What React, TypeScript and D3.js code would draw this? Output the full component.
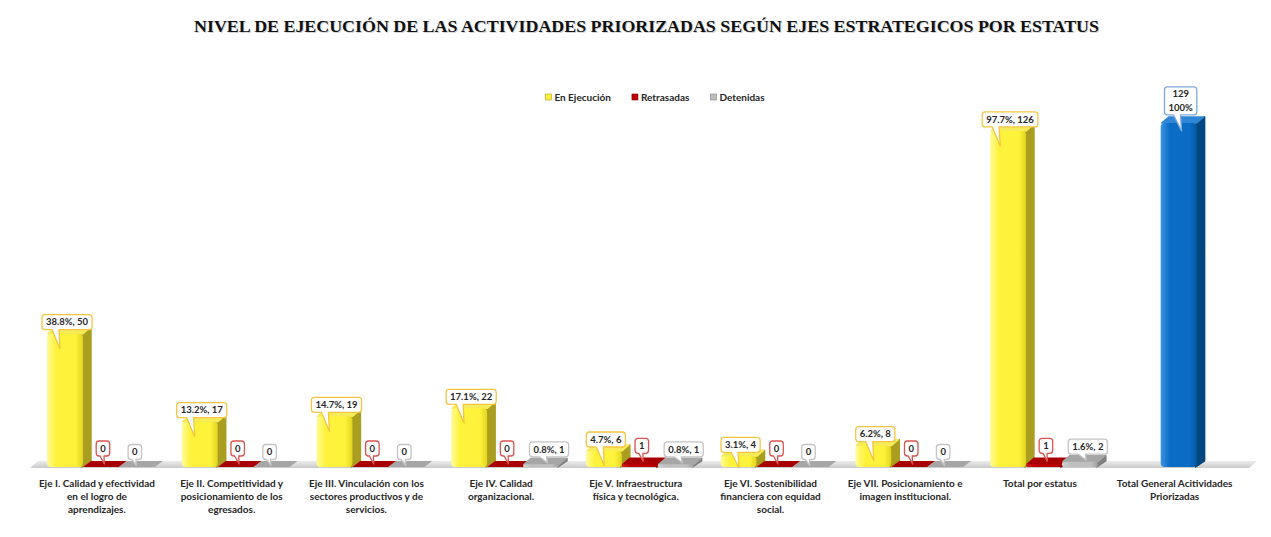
import React from 'react';
import * as d3 from 'd3';

const W = 1271;
const H = 537;

const title = 'NIVEL DE EJECUCIÓN DE LAS ACTIVIDADES PRIORIZADAS SEGÚN EJES ESTRATEGICOS POR ESTATUS';

const categories = [
  'Eje I. Calidad y efectividad\nen el logro de\naprendizajes.',
  'Eje II. Competitividad y\nposicionamiento de los\negresados.',
  'Eje III. Vinculación con los\nsectores productivos y de\nservicios.',
  'Eje IV. Calidad\norganizacional.',
  'Eje V. Infraestructura\nfísica y tecnológica.',
  'Eje VI. Sostenibilidad\nfinanciera con equidad\nsocial.',
  'Eje VII. Posicionamiento e\nimagen institucional.',
  'Total por estatus',
  'Total General Acitividades\nPriorizadas',
];

const seriesNames = ['En Ejecución', 'Retrasadas', 'Detenidas'];

const enEjecucion = [50, 17, 19, 22, 6, 4, 8, 126];
const retrasadas = [0, 0, 0, 0, 1, 0, 0, 1];
const detenidas = [0, 0, 0, 1, 1, 0, 0, 2];
const pctEnEjecucion = ['38.8%', '13.2%', '14.7%', '17.1%', '4.7%', '3.1%', '6.2%', '97.7%'];
const pctDetenidas = ['', '', '', '0.8%', '0.8%', '', '', '1.6%'];
const totalGeneral = 129;
const totalGeneralPct = '100%';

const FONT = 'Lato, "Noto Sans", sans-serif';

type Style = {
  front: [string, string, string];
  side: string;
  top: string;
  border: string;
};

const styles: Record<string, Style> = {
  'En Ejecución': { front: ['#fffb9a', '#fff23a', '#e3d41f'], side: '#a99e1f', top: '#f6ec5a', border: '#f5c542' },
  Retrasadas: { front: ['#d42020', '#c00000', '#9a0000'], side: '#7a0000', top: '#a80000', border: '#d9534f' },
  Detenidas: { front: ['#cfcfcf', '#bfbfbf', '#9f9f9f'], side: '#808080', top: '#a6a6a6', border: '#c4c4c4' },
  Total: { front: ['#3d93e4', '#0a6cc4', '#075aa6'], side: '#00467f', top: '#2f86d6', border: '#7fa9dc' },
};

let ctx: CanvasRenderingContext2D | null = null;
function measure(text: string, size: number): number {
  if (!ctx) {
    const c = document.createElement('canvas');
    ctx = c.getContext('2d');
  }
  if (!ctx) return text.length * size * 0.5;
  ctx.font = `bold ${size}px ${FONT}`;
  return ctx.measureText(text).width;
}

function calloutPath(l: number, t: number, w: number, h: number, r: number, wx1: number, wx2: number, tx: number, ty: number) {
  const b = t + h;
  const rr = l + w;
  return `M${l + r},${t} H${rr - r} Q${rr},${t} ${rr},${t + r} V${b - r} Q${rr},${b} ${rr - r},${b} H${wx2} L${tx},${ty} L${wx1},${b} H${l + r} Q${l},${b} ${l},${b - r} V${t + r} Q${l},${t} ${l + r},${t} Z`;
}

const DX = 8;
const DY = -6;

export default function App() {
  const base = 467;
  const x = d3.scaleBand<string>().domain(categories).range([33.6, 1246]).paddingInner(0.2).paddingOuter(0.1);
  const xs = d3.scaleBand<string>().domain(seriesNames).range([0, x.bandwidth()]);
  const y = d3.scaleLinear().domain([0, 140]).range([base, base - 140 * 2.667]);
  const w = xs.bandwidth();

  type Bar = { key: string; x0: number; v: number; style: Style; series: string; label: string[] };
  const bars: Bar[] = [];
  const seriesData = [enEjecucion, retrasadas, detenidas];
  for (let i = 0; i < 8; i++) {
    seriesNames.forEach((s, si) => {
      const v = seriesData[si][i];
      let label: string[];
      if (si === 0) label = [`${pctEnEjecucion[i]}, ${v}`];
      else if (si === 1) label = [`${v}`];
      else label = [pctDetenidas[i] ? `${pctDetenidas[i]}, ${v}` : `${v}`];
      bars.push({
        key: `${i}-${si}`,
        x0: (x(categories[i]) as number) + (xs(s) as number),
        v,
        style: styles[s],
        series: s,
        label,
      });
    });
  }
  bars.push({
    key: 'total',
    x0: (x(categories[8]) as number) + (xs('Retrasadas') as number),
    v: totalGeneral,
    style: styles.Total,
    series: 'Total',
    label: [`${totalGeneral}`, totalGeneralPct],
  });

  const floorL = 30;
  const floorR = 1249;

  const renderBar = (b: Bar) => {
    const yt = y(b.v);
    const h = base - yt;
    const id = `g-${b.key}`;
    const grad = (
      <linearGradient id={id} x1="0" x2="1" y1="0" y2="0">
        <stop offset="0" stopColor={b.style.front[0]} />
        <stop offset="0.25" stopColor={b.style.front[1]} />
        <stop offset="0.8" stopColor={b.style.front[1]} />
        <stop offset="1" stopColor={b.style.front[2]} />
      </linearGradient>
    );
    if (h < 0.5) {
      return (
        <g key={b.key}>
          <polygon
            points={`${b.x0},${base} ${b.x0 + DX},${base + DY} ${b.x0 + w + DX},${base + DY} ${b.x0 + w},${base}`}
            fill={b.style.top}
          />
        </g>
      );
    }
    const r = Math.min(4, h / 2);
    return (
      <g key={b.key}>
        <defs>{grad}</defs>
        <polygon
          points={`${b.x0 + w - 1},${yt} ${b.x0 + w + DX},${yt + DY} ${b.x0 + w + DX},${base + DY} ${b.x0 + w - 1},${base}`}
          fill={b.style.side}
          stroke={b.style.side}
          strokeWidth={1.5}
          strokeLinejoin="round"
        />
        <polygon
          points={`${b.x0 + 1},${yt} ${b.x0 + DX},${yt + DY} ${b.x0 + w + DX - 1},${yt + DY} ${b.x0 + w},${yt}`}
          fill={b.style.top}
          stroke={b.style.top}
          strokeWidth={1.5}
          strokeLinejoin="round"
        />
        <rect x={b.x0} y={yt} width={w} height={h} rx={r} ry={r} fill={`url(#${id})`} />
      </g>
    );
  };

  const renderLabel = (b: Bar) => {
    const fs = 9.5;
    const yt = y(b.v);
    const tw = Math.max(...b.label.map((t) => measure(t, fs)));
    const bw = tw + 8;
    const bh = b.label.length > 1 ? 28 : 15;
    let offset = 4;
    if (b.series === 'Retrasadas') offset = 11;
    if (b.series === 'Detenidas') offset = 7.5;
    if (b.series === 'Total') offset = 8;
    const bottom = yt - offset;
    const top = bottom - bh;
    let cx = b.x0 + w / 2 + 2;
    if (b.series === 'Detenidas') cx = b.x0 + w / 2 + (b.label[0].length > 2 ? 8 : -2);
    const l = cx - bw / 2;
    const wx1 = l + Math.min(10, bw * 0.28);
    const wx2 = wx1 + Math.min(7, bw * 0.3);
    const tx = wx1 + Math.min(8, bw * 0.32);
    let ty: number;
    if (b.series === 'En Ejecución') ty = yt + Math.min(15, (base - yt) * 0.6 + 5);
    else if (b.series === 'Total') ty = yt + 8;
    else ty = Math.max(bottom + 6, yt - 3);
    return (
      <g key={`l-${b.key}`}>
        <path
          d={calloutPath(l, top, bw, bh, 3, wx1, wx2, tx, ty)}
          fill="#ffffff"
          stroke={b.style.border}
          strokeWidth={1.3}
          strokeLinejoin="round"
        />
        {b.label.map((t, i) => (
          <text
            key={i}
            x={cx}
            y={top + (bh / b.label.length) * (i + 0.5) + 3.3}
            textAnchor="middle"
            fontFamily={FONT}
            fontWeight="bold"
            fontSize={fs}
            fill="#262626"
          >
            {t}
          </text>
        ))}
      </g>
    );
  };

  // legend layout
  const legendFs = 10;
  const items = seriesNames.map((s) => ({ s, tw: measure(s, legendFs) }));
  const itemW = items.map((it) => 6 + 3 + it.tw);
  const gap = 21;
  const totalLW = itemW.reduce((a, b) => a + b, 0) + gap * (items.length - 1);
  let lx = 655 - totalLW / 2;
  const legendPos = items.map((it, i) => {
    const p = lx;
    lx += itemW[i] + gap;
    return { ...it, x: p };
  });

  return (
    <svg
      width={W}
      height={H}
      viewBox={`0 0 ${W} ${H}`}
      style={{ position: 'fixed', left: 0, top: 0, background: '#ffffff' }}
    >
      <defs>
        <linearGradient id="floorGrad" x1="0" x2="0" y1="0" y2="1">
          <stop offset="0" stopColor="#ececec" />
          <stop offset="0.5" stopColor="#dcdcdc" />
          <stop offset="1" stopColor="#c9c9c9" />
        </linearGradient>
      </defs>
      <rect x={0} y={0} width={W} height={H} fill="#ffffff" />

      {/* title */}
      <text
        x={646.5}
        y={32}
        textAnchor="middle"
        fontFamily='"Liberation Serif", "DejaVu Serif", serif'
        fontWeight="bold"
        fontSize={17.5}
        fill="#d4d4d4"
        textLength={905}
        lengthAdjust="spacingAndGlyphs"
        transform="translate(1,1)"
      >
        {title}
      </text>
      <text
        x={646.5}
        y={32}
        textAnchor="middle"
        fontFamily='"Liberation Serif", "DejaVu Serif", serif'
        fontWeight="bold"
        fontSize={17.5}
        fill="#111111"
        textLength={905}
        lengthAdjust="spacingAndGlyphs"
      >
        {title}
      </text>

      {/* legend */}
      {legendPos.map((it) => (
        <g key={it.s}>
          <rect x={it.x} y={94} width={6} height={6} fill={styles[it.s].front[1]} stroke={styles[it.s].side} strokeWidth={0.6} />
          <text x={it.x + 9} y={100.8} fontFamily={FONT} fontWeight="bold" fontSize={legendFs} fill="#262626">
            {it.s}
          </text>
        </g>
      ))}

      {/* floor */}
      <polygon
        points={`${floorL},${base + 1} ${floorR},${base + 1} ${floorR + DX},${base + DY} ${floorL + DX},${base + DY}`}
        fill="url(#floorGrad)"
      />

      {/* bars */}
      {bars.map(renderBar)}

      {/* labels */}
      {bars.map(renderLabel)}

      {/* category labels */}
      {categories.map((c) => {
        const cx = (x(c) as number) + x.bandwidth() / 2 - 4;
        const lines = c.split('\n');
        return (
          <text key={c} textAnchor="middle" fontFamily={FONT} fontWeight="bold" fontSize={10} fill="#262626">
            {lines.map((ln, i) => (
              <tspan key={i} x={cx} y={486.5 + i * 13.3}>
                {ln}
              </tspan>
            ))}
          </text>
        );
      })}
    </svg>
  );
}
